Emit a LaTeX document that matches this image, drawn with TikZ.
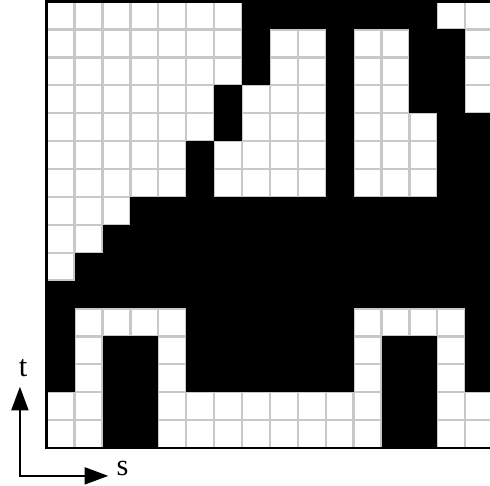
\documentclass[tikz,border=0pt]{standalone}
\usepackage{fontspec}
\setmainfont{Liberation Serif}
\usetikzlibrary{arrows.meta}
\definecolor{GridGray}{HTML}{C8C8C8}
\tikzset{
    cellfill/.style={
        fill=black
    },
    gridline/.style={
        draw=GridGray,
        line width=2.4pt
    },
    frame/.style={
        draw=black,
        line width=3pt
    },
    axes/.style={
        {Triangle[length=0.85cm,width=0.6cm]}-{Triangle[length=0.85cm,width=0.6cm]},
        line width=2.8pt,
        black
    },
    axislabel/.style={
        font=\fontsize{31}{33}\selectfont,
        inner sep=0pt
    }
}

\begin{document}
\begin{tikzpicture}
        \useasboundingbox[fill=white] (-1.674,-1.362) rectangle (15.889,16.057);

        % Grid of cells
        \draw[gridline] (0,0) grid (16,16);

        % Black cells (x, y, width, height)
        \foreach \x/\y/\w/\h in {7/15/7/1, 7/13/1/2, 10/9/1/6, 13/12/2/3,
                6/11/1/2, 14/9/2/3, 5/9/1/2,
                3/8/13/1, 2/7/14/1, 1/6/15/1, 0/5/16/1,
                0/2/1/3, 5/2/6/3, 15/2/1/3, 2/0/2/4, 12/0/2/4}
            \fill[cellfill] (\x,\y) rectangle ++(\w,\h);

        % Frame
        \draw[frame] (0,0) rectangle (16,16);

        % Axes
        \coordinate (origin) at (-0.96,-1.0);
        \coordinate (tend) at (-0.96,2.2);
        \coordinate (send) at (2.21,-1.0);
        \draw[axes] (tend) -- (origin) -- (send);

        \node[axislabel, anchor=base] (tlabel) at (-0.85,2.58) {t};
        \node[axislabel, anchor=base west] (slabel) at (2.5,-1.0) {s};
    \end{tikzpicture}
\end{document}
